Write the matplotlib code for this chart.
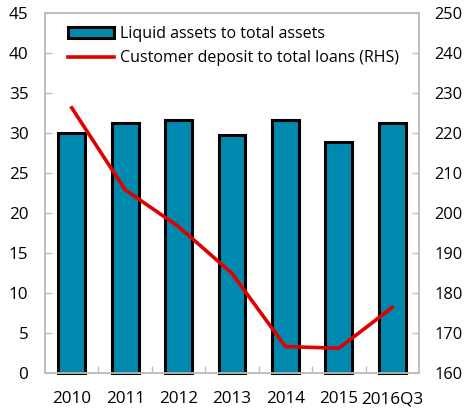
import matplotlib.pyplot as plt
from matplotlib.ticker import FixedLocator

# data
categories = ["2010", "2011", "2012", "2013", "2014", "2015", "2016Q3"]
liquid_assets = [30.0, 31.2, 31.6, 29.7, 31.6, 28.9, 31.2]
deposit_to_loans = [226.3, 205.8, 196.6, 184.9, 166.6, 166.2, 176.4]

BAR_COLOR = "#0089ae"
LINE_COLOR = "#e00000"
SPINE_COLOR = "#bfbfbf"

plt.rcParams["font.family"] = ["Open Sans", "DejaVu Sans"]
plt.rcParams["font.size"] = 12.3

fig = plt.figure(figsize=(4.67, 4.12), dpi=100)
ax = fig.add_axes([0.0964, 0.0947, 0.8008, 0.8737])
ax2 = ax.twinx()

x = list(range(len(categories)))

bars = ax.bar(x, liquid_assets, width=0.5, color=BAR_COLOR,
              edgecolor="black", linewidth=2.2,
              label="Liquid assets to total assets", zorder=3, clip_on=False)
line, = ax2.plot(x, deposit_to_loans, color=LINE_COLOR, linewidth=2.6,
                 label="Customer deposit to total loans (RHS)", zorder=4)

ax.set_xlim(-0.5, len(categories) - 0.5)
ax.set_ylim(0, 45)
ax.set_yticks(range(0, 46, 5))
ax2.set_ylim(160, 250)
ax2.set_yticks(range(160, 251, 10))

ax.set_xticks(x)
ax.set_xticklabels(categories)
ax.tick_params(axis="x", length=0, pad=13)
ax.xaxis.set_minor_locator(FixedLocator([i + 0.5 for i in x[:-1]]))
ax.tick_params(axis="x", which="minor", direction="in", length=5,
               color=SPINE_COLOR, width=1)
ax.tick_params(axis="y", direction="in", length=5, color=SPINE_COLOR,
               width=1, pad=12)
ax2.tick_params(axis="y", direction="in", length=5, color=SPINE_COLOR,
                width=1, pad=11, labelsize=11.8)

for a in (ax, ax2):
    for s in a.spines.values():
        s.set_color(SPINE_COLOR)
        s.set_linewidth(1.3)

# line axes sit above the bar axes
ax.set_zorder(1)
ax2.set_zorder(2)
ax2.patch.set_visible(False)

leg = ax2.legend([bars, line], [bars.get_label(), line.get_label()],
                 loc="upper left", bbox_to_anchor=(0.035, 0.99),
                 frameon=False, handlelength=2.9, handletextpad=0.4,
                 labelspacing=0.5, borderaxespad=0.2, fontsize=11.5)

fig.savefig("out.png", dpi=100)
